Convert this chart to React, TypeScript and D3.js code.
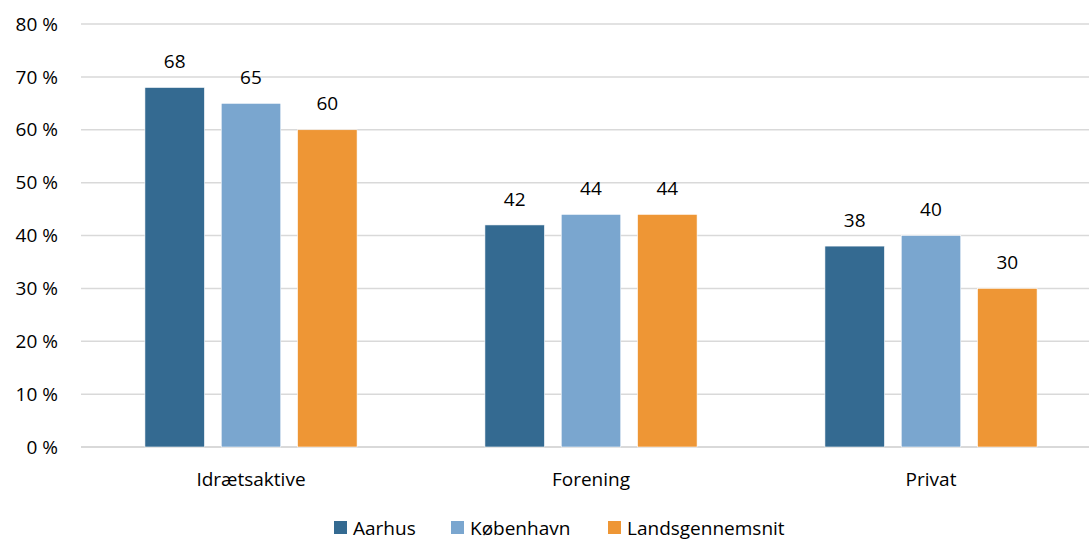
import React from 'react';
import * as d3 from 'd3';

const categories = ['Idrætsaktive', 'Forening', 'Privat'];
const seriesNames = ['Aarhus', 'København', 'Landsgennemsnit'];
const aarhus = [68, 42, 38];
const kobenhavn = [65, 44, 40];
const landsgennemsnit = [60, 44, 30];
const yTicks = [0, 10, 20, 30, 40, 50, 60, 70, 80];

const colors = ['#346a91', '#7aa6cf', '#ee9635'];
const seriesValues = [aarhus, kobenhavn, landsgennemsnit];

const W = 1089;
const H = 543;
const font = "'Open Sans', sans-serif";
const fs = 19;

export default function App() {
  const x0 = d3.scaleBand<string>().domain(categories).range([81, 1101]).paddingInner(0.376).paddingOuter(0.188);
  const x1 = d3.scaleBand<string>().domain(seriesNames).range([0, x0.bandwidth()]).paddingInner(0.22);
  const y = d3.scaleLinear().domain([0, 80]).range([447, 24]);

  const legendX = [334, 451, 608];

  return (
    <svg width={W} height={H} style={{ position: 'absolute', left: 0, top: 0, background: '#fff' }} fontFamily={font}>
      {yTicks.map((t) => (
        <g key={t}>
          <line x1={81} x2={1101} y1={y(t)} y2={y(t)} stroke="#d9d9d9" strokeWidth={t === 0 ? 2 : 1.5} />
          <text x={58} y={y(t)} dy="0.35em" textAnchor="end" fontSize={fs} fill="#000">
            {t} %
          </text>
        </g>
      ))}
      {categories.map((c, ci) => (
        <g key={c} transform={`translate(${x0(c)},0)`}>
          {seriesNames.map((s, si) => {
            const v = seriesValues[si][ci];
            const bx = x1(s)!;
            return (
              <g key={s}>
                <rect x={bx} y={y(v)} width={x1.bandwidth()} height={y(0) - y(v)} fill={colors[si]} stroke="#fff" strokeWidth={0.6} />
                <text x={bx + x1.bandwidth() / 2} y={y(v) - 26} dy="0.35em" textAnchor="middle" fontSize={fs} fill="#000">
                  {v}
                </text>
              </g>
            );
          })}
          <text x={x0.bandwidth() / 2} y={479} dy="0.35em" textAnchor="middle" fontSize={fs} fill="#000">
            {c}
          </text>
        </g>
      ))}
      {seriesNames.map((s, i) => (
        <g key={s} transform={`translate(${legendX[i]},521)`}>
          <rect x={0} y={0} width={13} height={13} fill={colors[i]} />
          <text x={19} y={7} dy="0.35em" fontSize={fs} fill="#000">
            {s}
          </text>
        </g>
      ))}
    </svg>
  );
}
